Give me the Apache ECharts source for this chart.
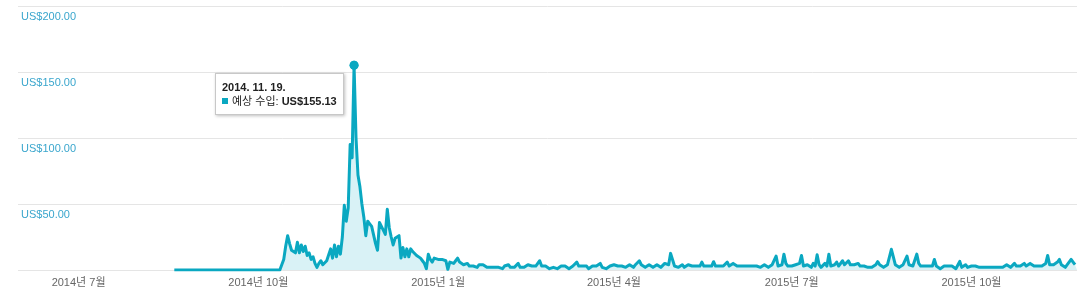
<!DOCTYPE html>
<html>
<head>
<meta charset="utf-8">
<script src="https://cdn.jsdelivr.net/npm/echarts@6/dist/echarts.min.js"></script>
<style>
html,body{margin:0;padding:0;background:#fff;}
#chart{width:1089px;height:296px;}
</style>
</head>
<body>
<div id="chart"></div>
<script>
// ---- DATA ----
const axisStartDate = '2014-05-31';
const axisEndDate = '2015-11-24';
const dataStartDate = '2014-08-19';
const seriesName = '예상 수입';

const xTickDates = ['2014-07-01','2014-10-01','2015-01-01','2015-04-01','2015-07-01','2015-10-01'];
const xTickLabels = ['2014년 7월','2014년 10월','2015년 1월','2015년 4월','2015년 7월','2015년 10월'];
const yTickValues = [50, 100, 150, 200];
const yTickLabels = ['US$50.00','US$100.00','US$150.00','US$200.00'];

// daily estimated revenue (US$)
const aug2014 = [0,0,0,0,0,0,0,0,0,0,0,0,0]; // from Aug 19
const sep2014 = [0,0,0,0,0,0,0,0,0,0,0,0,0,0,0,0,0,0,0,0,0,0,0,0,0,0,0,0,0,0];
const oct2014 = [0,0,0,0,0,0,0,0,0,0,0,0,1,8,18,26,20,15,16,13,21,13,19,14,18,11,13,8,10,5,2];
const nov2014 = [5,7,4,3,7,8,16,9,19,10,18,12,25,49,37,47,95,85,155.13,100,72,63,50,40,26,37,35,33,32,20];
const dec2014 = [15,36,33,30,27,46,32,25,19,24,25,26,9,17,10,16,10,16,14,13,11,10,9,7,5,1,12,8,6,9,9];
const jan2015 = [8,9,8,9,7,0.5,6,5,5,7,9,6,5,4,4,5,3,2,3,3,2,4,5.5,4,3,2,1,2,3,2,3];
const feb2015 = [2,3,1,3,2,4,2,3,2,3,5,2,3,2,3,4,5,3,2,3,4,7,3,2,3,2,1,2];
const mar2015 = [2,3,1,2,3,2,3,2,1,2,3,4,6,3,2,3,2,3,1,2,3,2,3,4,5,2,3,1,2,3,2];
const apr2015 = [4,4,3,2,3,4,2,3,4,3,2,4,5,7,4,3,2,3,4,3,2,3,4,3,2,3,5,4,4,12.6];
const may2015 = [12.2,3,4,2,3,4,2,3,4,5.5,3,2,3,4,3,6,3,2,3,4,3,6.3,3,2,3,4,3,2,6,3,2];
const jun2015 = [5,6,3,2,3,4,3,2,3,4,3,2,3,4,2,3,4,3,2,3,4,3,10.6,3,2,4,12,5,3,2];
const jul2015 = [3,2,4,3,5,11,3,2,4,3,2,5,3,11.5,4,2,3,5,3,12,3,2,4,6,3,2,7,4,3,7,4];
const aug2015 = [3,4,3,5,3,2,3,4,2,3,2,3,4,6.3,4,3,2,3,4,5,15.7,10,4,3,2,3,4,5,10.6,4,3];
const sep2015 = [3,4,12,5,3,2,3,2,3,4,3,8,3,2,1,2,3,2,3,4,3,2,1,2,6.5,2,3,4,2,3];
const oct2015 = [3,2,3,4,2,3,2,1,2,3,2,3,2,1,2,3,2,3,4,3,2,3,5,3,2,3,4,5,3,2,5];
const nov2015 = [5,3,2,3,4,3,4,5,11,4,3,4,5,6,8,4,3,2,4,5,8,6,4,4];

// ---- BUILD ----
function fmt(d){
  const m = String(d.getUTCMonth()+1).padStart(2,'0');
  const day = String(d.getUTCDate()).padStart(2,'0');
  return d.getUTCFullYear() + '-' + m + '-' + day;
}
const categories = [];
(function(){
  let d = new Date(axisStartDate + 'T00:00:00Z');
  const end = new Date(axisEndDate + 'T00:00:00Z');
  while (d <= end) { categories.push(fmt(d)); d = new Date(d.getTime() + 86400000); }
})();
const dailyValues = [].concat(aug2014, sep2014, oct2014, nov2014, dec2014,
  jan2015, feb2015, mar2015, apr2015, may2015, jun2015, jul2015, aug2015, sep2015, oct2015, nov2015);
const offset = categories.indexOf(dataStartDate);
const seriesData = categories.map((c, i) => {
  const k = i - offset;
  return (k >= 0 && k < dailyValues.length) ? dailyValues[k] : null;
});
let peakIndex = offset;
seriesData.forEach((v, i) => { if (v != null && v > seriesData[peakIndex]) peakIndex = i; });

const LINE = '#0aa8c1';
const FONT = 'Arial, "Liberation Sans", "Noto Sans CJK KR", sans-serif';

const chart = echarts.init(document.getElementById('chart'), null, {renderer: 'canvas'});
chart.setOption({
  animation: false,
  backgroundColor: '#ffffff',
  grid: {left: 18, right: 12, top: 6, bottom: 26, containLabel: false},
  tooltip: {
    trigger: 'axis',
    alwaysShowContent: true,
    transitionDuration: 0,
    axisPointer: {type: 'none'},
    position: [215, 73],
    backgroundColor: '#ffffff',
    borderColor: '#c8c8c8',
    borderWidth: 1,
    borderRadius: 0,
    padding: [6, 6, 6, 6],
    extraCssText: 'box-shadow:1px 1px 3px rgba(0,0,0,0.25);border-radius:0;',
    textStyle: {fontFamily: FONT, fontSize: 11, color: '#222'},
    formatter: function (params) {
      const p = params[0];
      const parts = p.name.split('-');
      const dateTxt = parts[0] + '. ' + parts[1] + '. ' + parts[2] + '.';
      return '<div style="font-weight:bold;line-height:14px;">' + dateTxt + '</div>' +
        '<div style="line-height:14px;"><span style="display:inline-block;width:6px;height:6px;background:' + LINE +
        ';margin-right:4px;vertical-align:1px;"></span>' + p.seriesName + ': <b>US$' + p.value.toFixed(2) + '</b></div>';
    }
  },
  xAxis: {
    type: 'category',
    data: categories,
    boundaryGap: false,
    axisLine: {show: false},
    axisTick: {show: false},
    splitLine: {show: false},
    axisLabel: {
      interval: function (i, v) { return xTickDates.indexOf(v) >= 0; },
      formatter: function (v) { const k = xTickDates.indexOf(v); return k >= 0 ? xTickLabels[k] : ''; },
      color: '#666666',
      fontFamily: FONT,
      fontSize: 11,
      margin: 7
    }
  },
  yAxis: {
    type: 'value',
    min: 0,
    max: 200,
    interval: 50,
    axisLine: {show: false},
    axisTick: {show: false},
    splitLine: {lineStyle: {color: '#e5e5e5', width: 1}},
    axisLabel: {
      inside: true,
      margin: 3,
      verticalAlign: 'top',
      padding: [5, 0, 0, 0],
      color: '#3aa6cd',
      fontFamily: FONT,
      fontSize: 11,
      formatter: function (v) { const k = yTickValues.indexOf(v); return k >= 0 ? yTickLabels[k] : ''; }
    }
  },
  series: [{
    name: seriesName,
    type: 'line',
    data: seriesData,
    showSymbol: false,
    symbol: 'circle',
    symbolSize: 8,
    connectNulls: false,
    lineStyle: {color: LINE, width: 3, join: 'round'},
    itemStyle: {color: LINE},
    areaStyle: {color: '#d9f2f6', opacity: 1},
    emphasis: {disabled: true},
    markPoint: {
      symbol: 'circle',
      symbolSize: 9,
      itemStyle: {color: LINE},
      label: {show: false},
      data: [{type: 'max'}]
    }
  }]
});
chart.dispatchAction({type: 'showTip', seriesIndex: 0, dataIndex: peakIndex});
</script>
</body>
</html>
